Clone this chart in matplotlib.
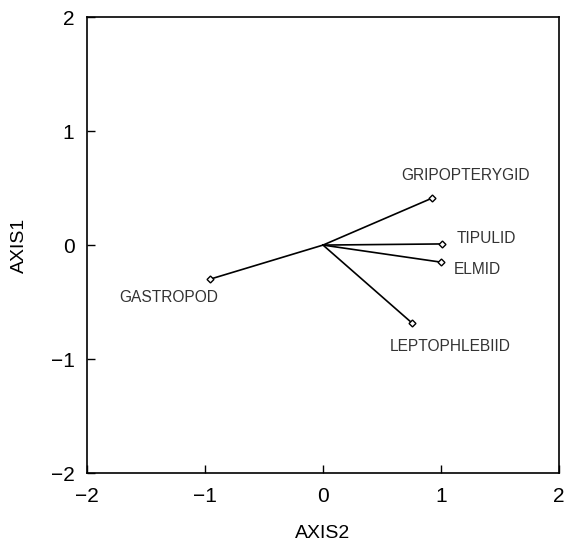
import matplotlib.pyplot as plt

names = ["GRIPOPTERYGID", "TIPULID", "ELMID", "LEPTOPHLEBIID", "GASTROPOD"]
axis2 = [0.92, 1.01, 1.00, 0.75, -0.96]
axis1 = [0.41, 0.01, -0.15, -0.68, -0.30]
# label anchor positions (data units) and alignment
lab_x = [1.21, 1.13, 1.11, 1.08, -1.31]
lab_y = [0.61, 0.06, -0.21, -0.89, -0.46]
lab_ha = ["center", "left", "left", "center", "center"]

plt.rcParams['font.family'] = ['Liberation Sans', 'DejaVu Sans']

fig = plt.figure(figsize=(5.66, 5.44), dpi=100)
ax = fig.add_axes([0.1537, 0.1305, 0.834, 0.838])

for x, y in zip(axis2, axis1):
    ax.plot([0, x], [0, y], color="black", lw=1.2)
ax.plot(axis2, axis1, ls="none", marker="D", ms=3.5, mfc="white", mec="black", mew=1)

for n, x, y, ha in zip(names, lab_x, lab_y, lab_ha):
    ax.text(x, y, n, ha=ha, va="center", fontsize=11.2, color="#333333")

ax.set_xlim(-2, 2)
ax.set_ylim(-2, 2)
ax.set_xticks([-2, -1, 0, 1, 2])
ax.set_yticks([-2, -1, 0, 1, 2])
ax.tick_params(direction="in", length=6, width=1, labelsize=15, colors="black")
ax.tick_params(axis="x", pad=10)
ax.tick_params(axis="y", pad=9)
for s in ax.spines.values():
    s.set_linewidth(1.2)

ax.set_xlabel("AXIS2", fontsize=14, labelpad=14)
ax.set_ylabel("AXIS1", fontsize=14, labelpad=16)

fig.savefig("out.png", dpi=100)
